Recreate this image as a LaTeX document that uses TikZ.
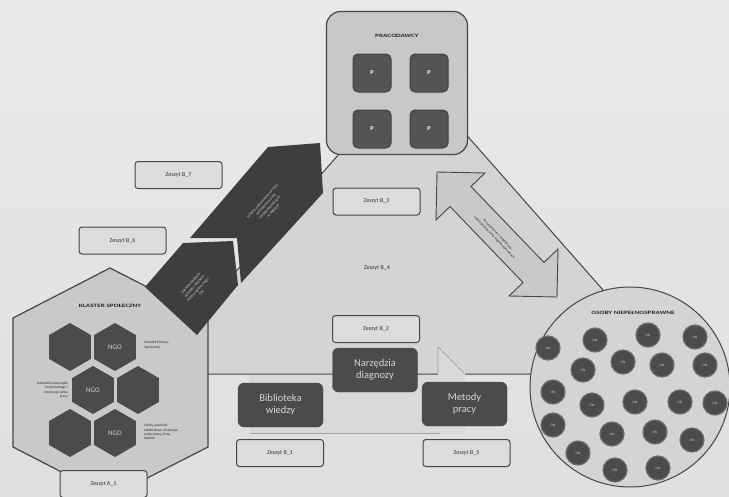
\documentclass[tikz,border=0pt]{standalone}
\usepackage{fontspec}
\setmainfont{Carlito}
\usetikzlibrary{calc}
\definecolor{bgc}{HTML}{E4E4E4}
\definecolor{bgtop}{HTML}{EAEAEA}
\definecolor{bgbot}{HTML}{DFDFDF}
\definecolor{tric}{HTML}{D4D4D4}
\definecolor{litec}{HTML}{D9D9D9}
\definecolor{darkc}{HTML}{4B4B4B}
\definecolor{chevc}{HTML}{3E3E3E}
\definecolor{linec}{HTML}{454545}
\definecolor{boxc}{HTML}{C8C8C8}
\definecolor{zesc}{HTML}{DCDCDC}
\definecolor{txtlite}{HTML}{D4D4D4}
\definecolor{arrc}{HTML}{C9C9C9}
\newcommand\hexcell[3]{%
  \coordinate (#1) at (#2,#3);
  \fill[darkc] ($(#1)+(30:24)$) -- ($(#1)+(90:24)$) -- ($(#1)+(150:24)$) -- ($(#1)+(210:24)$) -- ($(#1)+(270:24)$) -- ($(#1)+(330:24)$) -- cycle;}
\tikzset{
 zeszyt/.style={draw=linec, fill=zesc, line width=1pt, rounded corners=3pt, minimum width=87pt, minimum height=27pt, inner sep=0pt, font=\fontsize{6}{7}\selectfont, text=black!80},
 darkbox/.style={draw=black!70, fill=darkc, rounded corners=6pt, minimum width=85pt, minimum height=44pt, align=center, inner sep=0pt, text=txtlite, font=\fontsize{10.5}{12}\selectfont},
 pbox/.style={draw=black!75, fill=darkc!95!white, line width=1pt, rounded corners=5pt, minimum size=38pt, inner sep=0pt, text=white, font=\fontsize{6}{7}\selectfont\bfseries},
 onc/.style={circle, draw=gray!85!black, fill=darkc, line width=1.2pt, minimum size=24pt, inner sep=0pt, text=txtlite, font=\fontsize{3.5}{4}\selectfont},
 smalltxt/.style={font=\fontsize{3.6}{4.4}\selectfont, inner sep=0pt, text=black!85},
 ngotxt/.style={text=txtlite, font=\fontsize{7}{8}\selectfont, inner sep=0pt},
 wtxt/.style={text=txtlite, font=\fontsize{3.8}{4.8}\selectfont, align=center, inner sep=0pt},
 titletxt/.style={font=\fontsize{5}{6}\selectfont\bfseries, inner sep=0pt, xscale=1.45, text=black!85},
}
\begin{document}
\begin{tikzpicture}[x=1pt,y=-1pt]
\shade[top color=bgtop, bottom color=bgbot] (0,0) rectangle (729,496);
\useasboundingbox (0,0) rectangle (729,496);

% big triangle
\filldraw[fill=tric, draw=linec, line width=1pt] (411,72) -- (677,374) -- (146,374) -- cycle;
% lighter band under the three boxes
\fill[litec] (250,375) -- (438,375) -- (438,347) -- (465,373) -- (465,433) -- (250,433) -- cycle;
\draw[gray!70, line width=0.6pt] (250,433) -- (440,433);
\draw[gray!80, line width=0.6pt] (438,347) -- (438,373) (438,347) -- (464,373);

% big hexagon (klaster)
\filldraw[fill=tric!95!black, draw=linec, line width=1.2pt] (110,268) -- (208,318) -- (208,447) -- (110,497) -- (13,447) -- (13,318) -- cycle;
\node[titletxt] (klaster) at (110,306) {KLASTER SPOŁECZNY};
\hexcell{h1}{70}{347}
\hexcell{h2}{115}{347}
\hexcell{h3}{93}{390}
\hexcell{h4}{138}{390}
\hexcell{h5}{70}{433}
\hexcell{h6}{115}{433}
\node[ngotxt] (ngo1) at (h2) {NGO};
\node[ngotxt] (ngo2) at (h3) {NGO};
\node[ngotxt] (ngo3) at (h6) {NGO};
\node[smalltxt, anchor=west, align=left] (lab1) at (144,345) {Ośrodek Pomocy\\Społecznej};
\node[smalltxt, anchor=east, align=right] (lab2) at (68,390) {Jednostki samorządu\\terytorialnego i\\instytucje rynku\\pracy};
\node[smalltxt, anchor=west, align=left] (lab3) at (144,432) {Szkoły, placówki\\szkoleniowe, instytucje\\rynku pracy, firmy\\lokalne};

% chevrons
\fill[chevc] (268,147) -- (320,143) -- (323,193) -- (241,283) -- (237,238) -- (190,238) -- cycle;
\fill[chevc] (145,287) -- (183,243) -- (233,241) -- (238,285) -- (197,335) -- cycle;
\node[wtxt, rotate=48] (chev1) at (268,206) {Lokalne partnerstwa na rzecz\\zatrudnienia osób\\niepełnosprawnych\\w regionie};
\node[wtxt, rotate=48] (chev2) at (196,288) {Lokalna diagnoza\\potrzeb i zasobów\\klastra społecznego\\ON};

% double arrow
\filldraw[fill=arrc, draw=linec, line width=0.9pt] (437,172) -- (485,173) -- (471,186.5) -- (544,262.5) -- (558,249) -- (557,297) -- (509,296) -- (523,282.5) -- (450,206.5) -- (436,220) -- cycle;
\node[smalltxt, rotate=-46, align=center] (arrtxt) at (496,236) {Porozumienie o współpracy\\i zatrudnieniu osób niepełnosprawnych};

% employers box
\node[draw=linec, fill=boxc, line width=1.2pt, rounded corners=14pt, minimum width=141pt, minimum height=143pt, inner sep=0pt] (prac) at (397,83) {};
\node[titletxt] (pract) at (397,36) {PRACODAWCY};
\node[pbox] (p1) at (372,73) {P};
\node[pbox] (p2) at (429,73) {P};
\node[pbox] (p3) at (372,129) {P};
\node[pbox] (p4) at (429,129) {P};

% people circle
\node[circle, draw=linec, fill=tric, line width=1pt, minimum size=200pt, inner sep=0pt] (osoby) at (630,387) {};
\node[titletxt] (osobyt) at (633,313) {OSOBY NIEPEŁNOSPRAWNE};
\foreach \x/\y [count=\i] in {548/348, 595/340, 648/335, 695/337, 583/370, 623/362, 662/365, 705/365, 553/392, 592/405, 635/402, 680/402, 715/403, 553/425, 612/434, 655/432, 692/440, 578/453, 615/470, 658/468}
  \node[onc] (on\i) at (\x,\y) {ON};

% dark boxes
\node[darkbox] (narz) at (375,370) {Narzędzia\\diagnozy};
\node[darkbox] (bibl) at (280.5,405) {Biblioteka\\wiedzy};
\node[darkbox] (meto) at (464.5,404) {Metody\\pracy};

% notebooks
\node[zeszyt] (b7) at (178.5,175) {Zeszyt B\_7};
\node[zeszyt] (b6) at (122.5,240.5) {Zeszyt B\_6};
\node[zeszyt] (b3) at (376.5,201.5) {Zeszyt B\_3};
\node[font=\fontsize{6}{7}\selectfont, text=black!80] (b4) at (377,268) {Zeszyt B\_4};
\node[zeszyt] (b2) at (376,329) {Zeszyt B\_2};
\node[zeszyt] (b1) at (280,453) {Zeszyt B\_1};
\node[zeszyt] (b5) at (466.5,453) {Zeszyt B\_5};
\node[zeszyt] (a1) at (103.5,484) {Zeszyt A\_1};
\end{tikzpicture}
\end{document}
